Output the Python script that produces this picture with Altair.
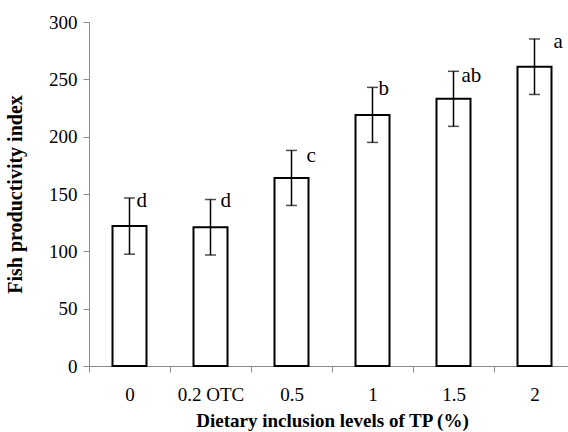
import altair as alt
import pandas as pd

categories = ["0", "0.2 OTC", "0.5", "1", "1.5", "2"]
means = [122, 121, 164, 219, 233, 261]
errors = [24.5, 24.2, 24, 24, 24, 24.2]
letters = ["d", "d", "c", "b", "ab", "a"]

# styling offsets for the significance letters (pixels)
letter_dx = [7, 10, 15, 6, 8, 19]
letter_dy = [9, 7, 12, 8, 11, 9]

df = pd.DataFrame({
    "cat": categories,
    "mean": means,
    "se": errors,
    "letter": letters,
})
df["lo"] = df["mean"] - df["se"]
df["hi"] = df["mean"] + df["se"]

FONT = "Liberation Serif"

x = alt.X(
    "cat:N",
    sort=categories,
    scale=alt.Scale(range=[0, 486], paddingInner=0, paddingOuter=0),
    axis=alt.Axis(
        title="Dietary inclusion levels of TP (%)",
        labelAngle=0,
        tickBand="extent",
        tickSize=6,
        labelPadding=13,
        titlePadding=7,
        labelFontSize=19,
        titleFontSize=19,
    ),
)

y_scale = alt.Scale(domain=[0, 300])
y_axis = alt.Axis(
    title="Fish productivity index",
    values=[0, 50, 100, 150, 200, 250, 300],
    tickSize=6,
    labelPadding=6,
    titlePadding=23,
    grid=False,
    labelFontSize=19,
    titleFontSize=20,
)

base = alt.Chart(df)

bars = base.mark_bar(fill="white", stroke="black", strokeWidth=2, size=34).encode(
    x=x,
    y=alt.Y("mean:Q", scale=y_scale, axis=y_axis),
)

rules = base.mark_rule(color="black", strokeWidth=1.5).encode(
    x=alt.X("cat:N", sort=categories),
    y="lo:Q",
    y2="hi:Q",
)

caps_hi = base.mark_tick(color="black", thickness=1.5, size=11, orient="horizontal").encode(
    x=alt.X("cat:N", sort=categories),
    y="hi:Q",
)
caps_lo = base.mark_tick(color="black", thickness=1.5, size=11, orient="horizontal").encode(
    x=alt.X("cat:N", sort=categories),
    y="lo:Q",
)

texts = []
for i, c in enumerate(categories):
    t = base.transform_filter(alt.datum.cat == c).mark_text(
        align="left", baseline="alphabetic", dx=letter_dx[i], dy=letter_dy[i],
        fontSize=21, font=FONT, color="black",
    ).encode(
        x=alt.X("cat:N", sort=categories),
        y="hi:Q",
        text="letter:N",
    )
    texts.append(t)

chart = alt.layer(bars, rules, caps_hi, caps_lo, *texts).properties(
    width=479,
    height=344,
    autosize=alt.AutoSizeParams(type="none"),
    padding={"left": 89, "top": 22, "right": 0, "bottom": 66},
    background="white",
).configure_view(stroke=None).configure_axis(
    domainColor="#8c8c8c",
    tickColor="#8c8c8c",
    labelColor="black",
    titleColor="black",
    labelFont=FONT,
    titleFont=FONT,
    titleFontWeight="bold",
    domainWidth=1,
    tickWidth=1,
)

chart.save("out.html", embed_options={"renderer": "svg", "actions": False})
